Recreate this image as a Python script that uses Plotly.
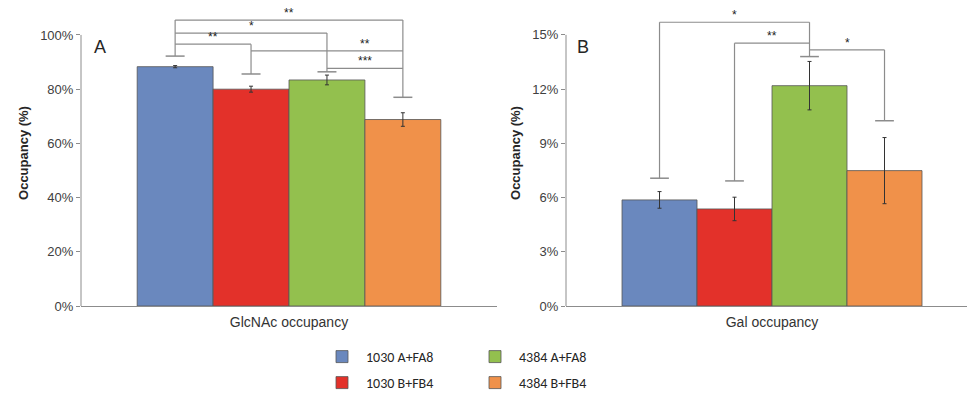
import plotly.graph_objects as go

# ---------------- data ----------------
series = ["1030 A+FA8", "1030 B+FB4", "4384 A+FA8", "4384 B+FB4"]
colors = ["#6A88BE", "#E3312A", "#93C04E", "#F0914A"]
legend_rank = [1, 3, 2, 4]

glcnac_values = [0.883, 0.800, 0.834, 0.688]
glcnac_err = [0.004, 0.011, 0.018, 0.025]
glcnac_caps = [0.922, 0.856, 0.864, 0.770]
glcnac_br_from = [0, 0, 0, 1, 2]
glcnac_br_to = [3, 2, 1, 3, 3]
glcnac_br_level = [1.055, 1.007, 0.966, 0.941, 0.877]
glcnac_br_label = ["**", "*", "**", "**", "***"]
glcnac_br_label_at = [1.5, 1.0, 0.5, 2.5, 2.5]

gal_values = [0.0587, 0.0537, 0.1219, 0.0749]
gal_err = [0.0046, 0.0065, 0.0134, 0.0183]
gal_caps = [0.0707, 0.0692, 0.1380, 0.1025]
gal_br_from = [0, 1, 2]
gal_br_to = [2, 2, 3]
gal_br_level = [0.1570, 0.1454, 0.1417]
gal_br_label = ["*", "**", "*"]
gal_br_label_at = [1.0, 1.5, 2.5]

panel_A_ticks = [0, 0.2, 0.4, 0.6, 0.8, 1.0]
panel_B_ticks = [0, 0.03, 0.06, 0.09, 0.12, 0.15]
category_A = "GlcNAc occupancy"
category_B = "Gal occupancy"
axis_title = "Occupancy (%)"

positions = [0, 1, 2, 3]

GRAY = "#8C8C8C"
TICKFONT = dict(family="Liberation Sans", size=13, color="#404040")
CATFONT = dict(family="Liberation Sans", size=14, color="#333333")
LEGFONT = dict(family="Carlito, Lato, sans-serif", size=14, color="#262626")

fig = go.Figure()

for k, (xa, ya, vals, errs, showleg) in enumerate([
    ("x", "y", glcnac_values, glcnac_err, True),
    ("x2", "y2", gal_values, gal_err, False),
]):
    for i in range(4):
        fig.add_trace(go.Bar(
            x=[positions[i]], y=[vals[i]], width=1.0,
            name=series[i], xaxis=xa, yaxis=ya,
            marker=dict(color=colors[i], line=dict(color="#555555", width=0.8)),
            error_y=dict(type="data", array=[errs[i]], color="#333333", thickness=1, width=2),
            showlegend=showleg, legendrank=legend_rank[i],
            legend="legend" if i in (0, 2) else "legend2",
            hoverinfo="skip",
        ))

shapes = []
annotations = []


def add_brackets(xref, yref, caps, b_from, b_to, b_level, b_label, b_label_at, cap_half=0.125):
    tops = list(caps)
    for f, t, lv in zip(b_from, b_to, b_level):
        tops[f] = max(tops[f], lv)
        tops[t] = max(tops[t], lv)
    for i in range(4):
        shapes.append(dict(type="line", xref=xref, yref=yref,
                           x0=positions[i] - cap_half, x1=positions[i] + cap_half,
                           y0=caps[i], y1=caps[i], line=dict(color=GRAY, width=1.5)))
        shapes.append(dict(type="line", xref=xref, yref=yref,
                           x0=positions[i], x1=positions[i],
                           y0=caps[i], y1=tops[i], line=dict(color=GRAY, width=1.2)))
    for f, t, lv, lb, la in zip(b_from, b_to, b_level, b_label, b_label_at):
        shapes.append(dict(type="line", xref=xref, yref=yref,
                           x0=positions[f], x1=positions[t], y0=lv, y1=lv,
                           line=dict(color=GRAY, width=1.2)))
        annotations.append(dict(xref=xref, yref=yref, x=la, y=lv, text=lb,
                                showarrow=False, yanchor="bottom", yshift=-2,
                                font=dict(family="Liberation Sans", size=12, color="#222222")))


add_brackets("x", "y", glcnac_caps, glcnac_br_from, glcnac_br_to, glcnac_br_level,
             glcnac_br_label, glcnac_br_label_at)
add_brackets("x2", "y2", gal_caps, gal_br_from, gal_br_to, gal_br_level,
             gal_br_label, gal_br_label_at)

# y-axis lines (stop at top tick)
for yref, xref, top in [("y", "x domain", panel_A_ticks[-1]), ("y2", "x2 domain", panel_B_ticks[-1])]:
    shapes.append(dict(type="line", xref=xref, yref=yref, x0=0, x1=0, y0=0, y1=top,
                       line=dict(color=GRAY, width=1)))

annotations.append(dict(xref="x domain", yref="y", x=0.045, y=0.955, text="A", showarrow=False,
                        xanchor="center", yanchor="middle",
                        font=dict(family="Liberation Sans", size=18, color="#262626")))
annotations.append(dict(xref="x2 domain", yref="y2", x=0.042, y=0.955 * 0.15, text="B", showarrow=False,
                        xanchor="center", yanchor="middle",
                        font=dict(family="Liberation Sans", size=18, color="#262626")))

yax_common = dict(showgrid=False, zeroline=False, showline=False, ticks="outside", ticklen=4,
                  tickcolor=GRAY, tickfont=TICKFONT, tickformat=".0%", automargin=False,
                  title=dict(text=axis_title, font=dict(family="Liberation Sans", size=13,
                                                         color="#262626", weight="bold"), standoff=8))
xax_common = dict(showgrid=False, zeroline=False, showline=True, linecolor=GRAY, linewidth=1,
                  ticks="", tickfont=CATFONT, tickvals=[1.5], ticklabelstandoff=3, automargin=False)

fig.update_layout(
    width=967, height=393,
    margin=dict(l=0, r=0, t=0, b=0, autoexpand=False),
    paper_bgcolor="white", plot_bgcolor="white",
    barmode="overlay",
    xaxis=dict(domain=[81 / 967, 497 / 967], range=[-1.24, 4.24], ticktext=[category_A],
               anchor="y", **xax_common),
    yaxis=dict(domain=[87 / 393, 1.0], range=[0, 1.129], tickvals=panel_A_ticks, anchor="x",
               **yax_common),
    xaxis2=dict(domain=[566 / 967, 1.0], range=[-1.247, 4.1], ticktext=[category_B],
                anchor="y2", **xax_common),
    yaxis2=dict(domain=[87 / 393, 1.0], range=[0, 0.1693], tickvals=panel_B_ticks, anchor="x2",
                **yax_common),
    shapes=shapes,
    annotations=annotations,
    legend=dict(orientation="h", x=318 / 967, xanchor="left", y=36 / 393, yanchor="middle",
                itemwidth=38, entrywidth=100, entrywidthmode="pixels", font=LEGFONT,
                bgcolor="rgba(0,0,0,0)", traceorder="normal", itemclick=False),
    legend2=dict(orientation="h", x=318 / 967, xanchor="left", y=10 / 393, yanchor="middle",
                 itemwidth=38, entrywidth=100, entrywidthmode="pixels", font=LEGFONT,
                 bgcolor="rgba(0,0,0,0)", traceorder="normal", itemclick=False),
)

fig.write_html("out.html", config={"displayModeBar": False},
               post_script="document.body.style.margin='0';document.body.style.overflow='hidden';")
